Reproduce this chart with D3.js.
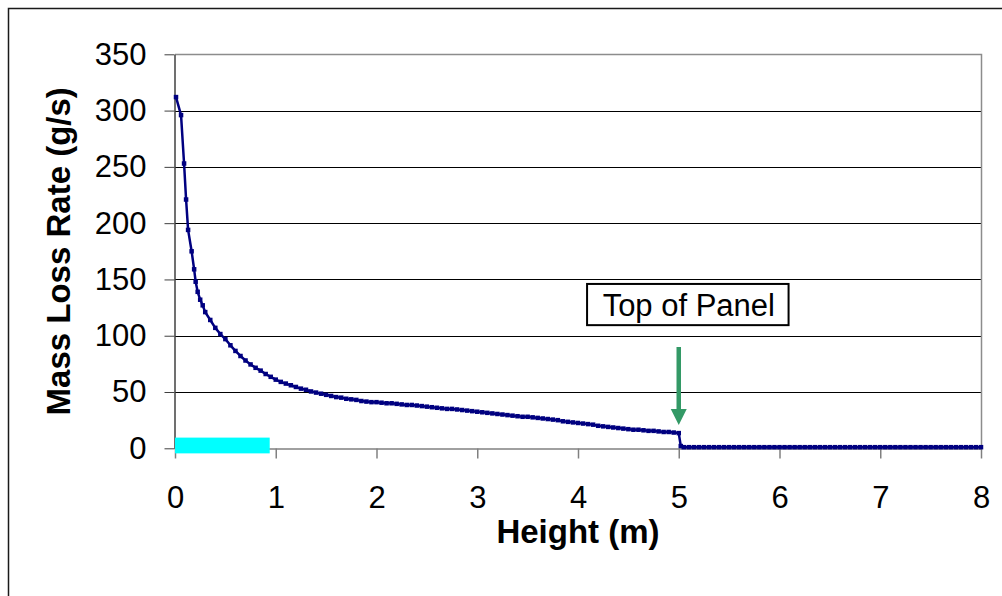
<!DOCTYPE html>
<html>
<head>
<meta charset="utf-8">
<script src="https://cdn.jsdelivr.net/npm/d3@7"></script>
<style>
  html, body { margin: 0; padding: 0; background: #fff; }
  svg { display: block; }
  text { font-family: "Liberation Sans", Arial, sans-serif; fill: #000; }
</style>
</head>
<body>
<svg id="chart" width="1002" height="596"></svg>
<script>
// Mass loss rate along the panel height
const heights = [
  0.01, 0.06, 0.09, 0.11, 0.13, 0.165, 0.19, 0.205, 0.225, 0.25, 0.275,
  0.30, 0.35, 0.40, 0.45, 0.50, 0.55, 0.60, 0.65, 0.70, 0.75, 0.80, 0.85, 0.90, 0.95,
  1.00, 1.05, 1.10, 1.15, 1.20, 1.25, 1.30, 1.35, 1.40, 1.45, 1.50, 1.55, 1.60, 1.65, 1.70, 1.75, 1.80, 1.85, 1.90, 1.95,
  2.00, 2.05, 2.10, 2.15, 2.20, 2.25, 2.30, 2.35, 2.40, 2.45, 2.50, 2.55, 2.60, 2.65, 2.70, 2.75, 2.80, 2.85, 2.90, 2.95,
  3.00, 3.05, 3.10, 3.15, 3.20, 3.25, 3.30, 3.35, 3.40, 3.45, 3.50, 3.55, 3.60, 3.65, 3.70, 3.75, 3.80, 3.85, 3.90, 3.95,
  4.00, 4.05, 4.10, 4.15, 4.20, 4.25, 4.30, 4.35, 4.40, 4.45, 4.50, 4.55, 4.60, 4.65, 4.70, 4.75, 4.80, 4.85, 4.90, 4.95,
  5.00, 5.02, 5.05, 5.10, 5.15, 5.20, 5.25, 5.30, 5.35, 5.40, 5.45, 5.50, 5.55, 5.60, 5.65, 5.70, 5.75, 5.80, 5.85, 5.90, 5.95,
  6.00, 6.05, 6.10, 6.15, 6.20, 6.25, 6.30, 6.35, 6.40, 6.45, 6.50, 6.55, 6.60, 6.65, 6.70, 6.75, 6.80, 6.85, 6.90, 6.95,
  7.00, 7.05, 7.10, 7.15, 7.20, 7.25, 7.30, 7.35, 7.40, 7.45, 7.50, 7.55, 7.60, 7.65, 7.70, 7.75, 7.80, 7.85, 7.90, 7.95,
  8.00
];
const rates = [
  312, 296, 253, 221, 194, 175, 159, 148, 139, 132, 127,
  121, 114, 107, 101.5, 97, 91.5, 86.5, 82, 78, 74.5, 71.5, 69, 66, 63.5,
  61, 59, 57.5, 56, 54.5, 53, 52, 50.5, 49.5, 48.5, 47.5, 46.5, 45.5, 45, 44, 43.5, 43, 42, 41.5, 41,
  41, 40.5, 40, 40, 39.5, 39, 38.5, 38.5, 38, 37.5, 37, 36.5, 36, 35.5, 35, 35, 34.5, 34, 33.5, 33,
  32.5, 32, 31.5, 31, 30.5, 30, 29.5, 29, 28.5, 28, 28, 27.5, 27, 26.5, 26, 25.5, 25, 24, 23.5, 23,
  22.5, 22, 21.5, 21, 20, 19.5, 19, 18.5, 18, 17.5, 17, 16.5, 16.5, 16, 15.5, 15.5, 15, 14.5, 14.5, 14,
  13.5, 2, 1, 1, 1, 1, 1, 1, 1, 1, 1, 1, 1, 1, 1, 1, 1, 1, 1, 1, 1,
  1, 1, 1, 1, 1, 1, 1, 1, 1, 1, 1, 1, 1, 1, 1, 1, 1, 1, 1, 1,
  1, 1, 1, 1, 1, 1, 1, 1, 1, 1, 1, 1, 1, 1, 1, 1, 1, 1, 1, 1,
  1
];

// Burner zone shown along the base of the chart
const burnerHeights = [0, 0.94];
const burnerBand = [-4.5, 9.5];

// Annotation: arrow pointing at the panel top
const panelTop = 5;
const arrowFrom = 90;
const arrowTo = 20.7;
const noteText = "Top of Panel";
const noteBoxX = [4.09, 6.09];
const noteBoxY = [109.4, 146];

const xTicks = [0, 1, 2, 3, 4, 5, 6, 7, 8];
const yTicks = [0, 50, 100, 150, 200, 250, 300, 350];
const xTitle = "Height (m)";
const yTitle = "Mass Loss Rate (g/s)";

const svg = d3.select("#chart");

// outer chart frame
svg.append("rect")
  .attr("x", 8.5).attr("y", 8.5)
  .attr("width", 1100).attr("height", 700)
  .attr("fill", "#fff").attr("stroke", "#1a1a1a").attr("stroke-width", 1.5);

const x = d3.scaleLinear().domain([0, 8]).range([175, 981]);
const y = d3.scaleLinear().domain([0, 350]).range([448.3, 54.3]);

const plot = svg.append("g");

// horizontal gridlines
plot.append("g")
  .selectAll("line")
  .data(yTicks.filter(v => v > 0 && v < 350))
  .join("line")
  .attr("x1", x(0)).attr("x2", x(8))
  .attr("y1", d => Math.round(y(d)) + 0.5).attr("y2", d => Math.round(y(d)) + 0.5)
  .attr("stroke", "#000").attr("stroke-width", 1);

// plot area border (top and right)
plot.append("path")
  .attr("d", `M${x(0)},${Math.round(y(350)) + 0.5}H${Math.round(x(8)) + 0.5}V${y(0)}`)
  .attr("fill", "none").attr("stroke", "#8c8c8c").attr("stroke-width", 1.5);

// x axis
const xAxis = d3.axisBottom(x).tickValues(xTicks).tickSize(10).tickSizeOuter(0).tickPadding(27).tickFormat(d3.format("d"));
const gx = svg.append("g").attr("transform", `translate(0,${Math.round(y(0)) + 0.5})`).call(xAxis);
gx.select(".domain").attr("stroke", "#808080").attr("stroke-width", 1.5);
gx.selectAll(".tick line").attr("stroke", "#808080").attr("stroke-width", 1.5);
gx.selectAll(".tick text").attr("font-size", 31).attr("font-family", "Liberation Sans, Arial, sans-serif").attr("fill", "#000");

// y axis
const yAxis = d3.axisLeft(y).tickValues(yTicks).tickSize(10).tickSizeOuter(0).tickPadding(18).tickFormat(d3.format("d"));
const gy = svg.append("g").attr("transform", `translate(${Math.round(x(0)) - 0.5},0)`).call(yAxis);
gy.select(".domain").attr("stroke", "#404040").attr("stroke-width", 1.5);
gy.selectAll(".tick line").attr("stroke", "#404040").attr("stroke-width", 1);
gy.selectAll(".tick text").attr("font-size", 31).attr("font-family", "Liberation Sans, Arial, sans-serif").attr("fill", "#000");

// burner band
svg.append("rect")
  .attr("x", x(burnerHeights[0]))
  .attr("y", y(burnerBand[1]))
  .attr("width", x(burnerHeights[1]) - x(burnerHeights[0]))
  .attr("height", y(burnerBand[0]) - y(burnerBand[1]))
  .attr("fill", "#00ffff");

// mass loss rate series
const pts = heights.map((h, i) => [h, rates[i]]);
svg.append("path")
  .datum(pts)
  .attr("d", d3.line().x(d => x(d[0])).y(d => y(d[1])))
  .attr("fill", "none").attr("stroke", "#000080").attr("stroke-width", 2.5)
  .attr("stroke-linejoin", "round");

svg.append("g")
  .selectAll("rect")
  .data(pts)
  .join("rect")
  .attr("x", d => x(d[0]) - 2.25).attr("y", d => y(d[1]) - 2.25)
  .attr("width", 4.5).attr("height", 4.5)
  .attr("fill", "#000080");

// annotation arrow
const ax = x(panelTop);
const headLen = 16, headHalf = 8;
svg.append("line")
  .attr("x1", ax).attr("x2", ax)
  .attr("y1", y(arrowFrom)).attr("y2", y(arrowTo) - headLen + 1)
  .attr("stroke", "#339966").attr("stroke-width", 4.5);
svg.append("path")
  .attr("d", `M${ax - headHalf},${y(arrowTo) - headLen}L${ax + headHalf},${y(arrowTo) - headLen}L${ax},${y(arrowTo)}Z`)
  .attr("fill", "#339966");

// annotation box
svg.append("rect")
  .attr("x", x(noteBoxX[0])).attr("y", y(noteBoxY[1]))
  .attr("width", x(noteBoxX[1]) - x(noteBoxX[0]))
  .attr("height", y(noteBoxY[0]) - y(noteBoxY[1]))
  .attr("fill", "#fff").attr("stroke", "#000").attr("stroke-width", 2);
svg.append("text")
  .attr("x", (x(noteBoxX[0]) + x(noteBoxX[1])) / 2 + 1)
  .attr("y", y(noteBoxY[0]) - 9)
  .attr("text-anchor", "middle")
  .attr("font-size", 31)
  .text(noteText);

// axis titles
svg.append("text")
  .attr("x", (x(0) + x(8)) / 2)
  .attr("y", 543)
  .attr("text-anchor", "middle")
  .attr("font-size", 33).attr("font-weight", "bold")
  .text(xTitle);

svg.append("text")
  .attr("transform", `translate(70,${(y(0) + y(350)) / 2}) rotate(-90)`)
  .attr("text-anchor", "middle")
  .attr("font-size", 33).attr("font-weight", "bold")
  .text(yTitle);
</script>
</body>
</html>
